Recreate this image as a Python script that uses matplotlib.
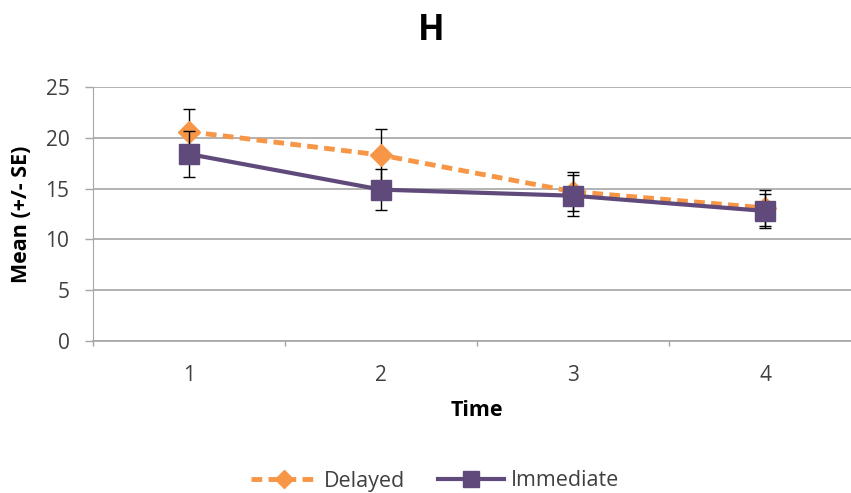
import matplotlib
matplotlib.use("Agg")
import matplotlib.pyplot as plt
import numpy as np

plt.rcParams['font.family'] = ['Open Sans', 'DejaVu Sans']

time_labels = ["1", "2", "3", "4"]
delayed = [20.6, 18.3, 14.7, 13.1]
delayed_se = [2.2, 2.6, 1.9, 1.8]
immediate = [18.4, 14.9, 14.3, 12.8]
immediate_se = [2.3, 2.0, 2.0, 1.7]

orange = "#F79646"
purple = "#604A7B"
grid_c = "#A6A6A6"
text_c = "#404040"

fig = plt.figure(figsize=(8.51, 4.93), dpi=100)
W, H = 851, 493
left, right, top, bottom = 93, 861, 87, 341
ax = fig.add_axes([left / W, 1 - bottom / H, (right - left) / W, (bottom - top) / H])

x = np.arange(1, len(time_labels) + 1)

ax.errorbar(x, delayed, yerr=delayed_se, color=orange, lw=3.5, ls=(0, (2.2, 1.3)),
            marker='D', ms=11, mfc=orange, mec=orange, ecolor='black', elinewidth=1,
            capsize=4, capthick=1, zorder=3, label="Delayed")
ax.errorbar(x, immediate, yerr=immediate_se, color=purple, lw=3, ls='-',
            marker='s', ms=15, mfc=purple, mec=purple, ecolor='black', elinewidth=1,
            capsize=4, capthick=1, zorder=4, label="Immediate")

ax.set_xlim(0.5, 4.5)
ax.set_ylim(0, 25)
ax.set_yticks([0, 5, 10, 15, 20, 25])
ax.set_xticks(x)
ax.set_xticklabels(time_labels)
ax.set_xticks([0.5, 1.5, 2.5, 3.5, 4.5], minor=True)
ax.tick_params(axis='x', which='major', length=0, pad=17, labelsize=15, labelcolor=text_c)
ax.tick_params(axis='x', which='minor', length=3.8, color=grid_c, width=1)
ax.tick_params(axis='y', length=6, color=grid_c, width=1, pad=11, labelsize=15, labelcolor=text_c)

ax.grid(axis='y', color=grid_c, lw=1.2)
ax.set_axisbelow(True)
for s in ['top', 'right']:
    ax.spines[s].set_visible(False)
ax.spines['left'].set_color(grid_c)
ax.spines['bottom'].set_color(grid_c)
ax.spines['bottom'].set_linewidth(1.2)

fig.text(22 / W, 1 - 214 / H, "Mean (+/- SE)", rotation=90, ha='center', va='center',
         fontsize=15.5, fontweight='bold', color='black')
fig.text(477 / W, 1 - 411 / H, "Time", ha='center', va='center',
         fontsize=15.5, fontweight='bold', color='black')
fig.text(431 / W, 1 - 31 / H, "H", ha='center', va='center', fontsize=25, fontweight='bold')

handles, labels = ax.get_legend_handles_labels()
handles = [h[0] for h in handles]
leg = fig.legend(handles, labels, loc='center', bbox_to_anchor=(435 / W, 1 - 481 / H),
                 ncol=2, frameon=False, fontsize=15.5, handlelength=3.1, columnspacing=1.5,
                 handletextpad=0.3, markerscale=0.8)
for t in leg.get_texts():
    t.set_color(text_c)

fig.savefig("out.png", dpi=100)
